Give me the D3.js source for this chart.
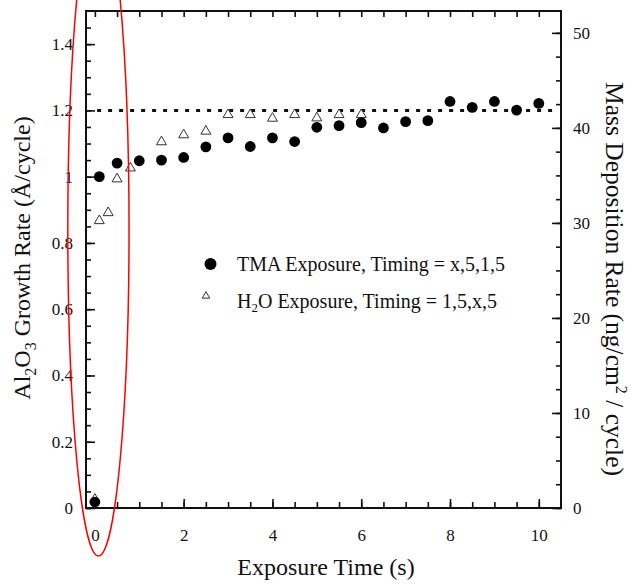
<!DOCTYPE html>
<html>
<head>
<meta charset="utf-8">
<script src="https://cdn.jsdelivr.net/npm/d3@7/dist/d3.min.js"></script>
<style>
  html, body { margin: 0; padding: 0; background: #fff; }
  svg text { font-family: "Liberation Serif", "Times New Roman", serif; fill: #111; }
</style>
</head>
<body>
<svg id="chart" width="634" height="584"></svg>
<script>
// ---- data ----
const tmaTime = [0, 0.1, 0.5, 1, 1.5, 2, 2.5, 3, 3.5, 4, 4.5, 5, 5.5, 6, 6.5, 7, 7.5, 8, 8.5, 9, 9.5, 10];
const tmaRate = [0.018, 1.0, 1.041, 1.048, 1.050, 1.058, 1.090, 1.117, 1.091, 1.117, 1.106, 1.149, 1.154, 1.163, 1.147, 1.166, 1.169, 1.227, 1.209, 1.227, 1.201, 1.221];
const h2oTime = [0, 0.1, 0.3, 0.5, 0.8, 1.5, 2, 2.5, 3, 3.5, 4, 4.5, 5, 5.5, 6];
const h2oRate = [0.026, 0.867, 0.891, 0.993, 1.026, 1.105, 1.126, 1.137, 1.187, 1.187, 1.176, 1.187, 1.177, 1.187, 1.187];
const refRate = 1.2;
const xTickLabels = [0, 2, 4, 6, 8, 10];
const yTickLabels = [0, 0.2, 0.4, 0.6, 0.8, 1, 1.2, 1.4];
const y2TickLabels = [0, 10, 20, 30, 40, 50];
const legendLabels = ["TMA Exposure, Timing = x,5,1,5", "H2O Exposure, Timing = 1,5,x,5"];

// ---- layout ----
const FONT = '"Liberation Serif", "Times New Roman", serif';
const svg = d3.select("#chart");
const L = 86, R = 561, T = 11, B = 508;
const x = d3.scaleLinear().domain([-0.2, 10.5]).range([L, R]);
const y = d3.scaleLinear().domain([0, 1.5]).range([B, T]);
const y2 = d3.scaleLinear().domain([0, 52.3]).range([B, T]);

const fmt = d => String(+d.toFixed(1));
const range = (a, b, s) => d3.range(a, b + s / 2, s).map(v => +v.toFixed(3));

function styleAxis(g) {
  g.attr("font-family", FONT).attr("font-size", 17);
  g.select(".domain").remove();
  g.selectAll(".tick line").attr("stroke", "#111").attr("stroke-width", 1.6);
  g.selectAll(".tick text").attr("fill", "#111")
    .style("font-family", FONT).style("font-size", "17px");
}

// minor ticks
svg.append("g").attr("transform", `translate(0,${B})`)
  .call(d3.axisBottom(x).tickValues(range(0, 10, 0.5)).tickSize(-6).tickFormat(""))
  .call(styleAxis);
svg.append("g").attr("transform", `translate(0,${T})`)
  .call(d3.axisTop(x).tickValues(range(0, 10, 0.5)).tickSize(-6).tickFormat(""))
  .call(styleAxis);
svg.append("g").attr("transform", `translate(${L},0)`)
  .call(d3.axisLeft(y).tickValues(range(0, 1.45, 0.05)).tickSize(-5).tickFormat(""))
  .call(styleAxis);
svg.append("g").attr("transform", `translate(${R},0)`)
  .call(d3.axisRight(y2).tickValues(range(0, 50, 2.5)).tickSize(-5).tickFormat(""))
  .call(styleAxis);

// major ticks with labels
svg.append("g").attr("transform", `translate(0,${B})`)
  .call(d3.axisBottom(x).tickValues(xTickLabels).tickSize(-9).tickPadding(21).tickFormat(fmt))
  .call(styleAxis);
svg.append("g").attr("transform", `translate(${L},0)`)
  .call(d3.axisLeft(y).tickValues(yTickLabels).tickSize(-9).tickPadding(13).tickFormat(fmt))
  .call(styleAxis);
svg.append("g").attr("transform", `translate(${R},0)`)
  .call(d3.axisRight(y2).tickValues(y2TickLabels).tickSize(-9).tickPadding(12).tickFormat(fmt))
  .call(styleAxis);

// frame
svg.append("rect").attr("x", L).attr("y", T).attr("width", R - L).attr("height", B - T)
  .attr("fill", "none").attr("stroke", "#111").attr("stroke-width", 2);

// reference dotted line
svg.append("line")
  .attr("x1", x(0.05)).attr("x2", x(10.4))
  .attr("y1", y(refRate)).attr("y2", y(refRate))
  .attr("stroke", "#111").attr("stroke-width", 3).attr("stroke-dasharray", "4,7");

// H2O triangles
const tri = d3.symbol().type(d3.symbolTriangle).size(43);
svg.append("g").selectAll("path").data(h2oTime.map((t, i) => [t, h2oRate[i]])).join("path")
  .attr("d", tri)
  .attr("transform", d => `translate(${x(d[0])},${y(d[1])})`)
  .attr("fill", "#fff").attr("stroke", "#333").attr("stroke-width", 1);

// TMA circles
svg.append("g").selectAll("circle").data(tmaTime.map((t, i) => [t, tmaRate[i]])).join("circle")
  .attr("cx", d => x(d[0])).attr("cy", d => y(d[1])).attr("r", 5.4).attr("fill", "#000");

// legend
const lg = svg.append("g");
lg.append("circle").attr("cx", 210.5).attr("cy", 264).attr("r", 6).attr("fill", "#000");
lg.append("text").attr("x", 237).attr("y", 271).attr("font-size", 20).text(legendLabels[0]);
lg.append("path").attr("d", d3.symbol().type(d3.symbolTriangle).size(24)())
  .attr("transform", "translate(206,296)")
  .attr("fill", "#fff").attr("stroke", "#333").attr("stroke-width", 1);
const t2 = lg.append("text").attr("x", 237).attr("y", 308).attr("font-size", 20);
t2.append("tspan").text("H");
t2.append("tspan").attr("font-size", 13).attr("dy", 4).text("2");
t2.append("tspan").attr("dy", -4).text("O Exposure, Timing = 1,5,x,5");

// axis titles
svg.append("text").attr("x", 326).attr("y", 575).attr("text-anchor", "middle")
  .attr("font-size", 24).text("Exposure Time (s)");

const yl = svg.append("text").attr("transform", "translate(30,258) rotate(-90)")
  .attr("text-anchor", "middle").attr("font-size", 24);
yl.append("tspan").text("Al");
yl.append("tspan").attr("font-size", 16).attr("dy", 6).text("2");
yl.append("tspan").attr("dy", -6).text("O");
yl.append("tspan").attr("font-size", 16).attr("dy", 6).text("3");
yl.append("tspan").attr("dy", -6).text("  Growth Rate (Å/cycle)");

const yr = svg.append("text").attr("transform", "translate(606,279) rotate(90)")
  .attr("text-anchor", "middle").attr("font-size", 25.5);
yr.append("tspan").text("Mass Deposition Rate (ng/cm");
yr.append("tspan").attr("font-size", 16).attr("dy", -10).text("2");
yr.append("tspan").attr("dy", 10).text(" / cycle)");

// red annotation ellipse (in data coordinates)
svg.append("ellipse")
  .attr("cx", x(0.08)).attr("cy", y(0.84))
  .attr("rx", x(0.08 + 0.69) - x(0.08)).attr("ry", y(0) - y(0.985))
  .attr("fill", "none").attr("stroke", "#f00").attr("stroke-width", 1.5);
</script>
</body>
</html>
